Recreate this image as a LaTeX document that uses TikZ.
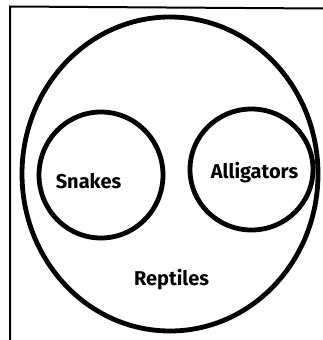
\documentclass[tikz,border=0pt]{standalone}
\usepackage{fontspec}
\setmainfont{Fira Sans}
\usetikzlibrary{shapes.geometric}
\begin{document}
\begin{tikzpicture}[x=1pt,y=-1pt,
  ring/.style={draw=black,line width=4.8pt,ellipse,inner sep=0pt},
  label/.style={font=\bfseries\fontsize{20}{22}\selectfont,anchor=base,inner sep=0pt},
  frame/.style={draw=black,line width=2pt}]
\useasboundingbox (0,0) rectangle (323,340);
\coordinate (tl) at (10,6.5);
\coordinate (tr) at (323,8.5);
\coordinate (bl) at (10,340);
\draw[frame] (bl) -- (tl) -- (tr);
\node[ring,minimum width=296pt,minimum height=314pt] (reptiles) at (170,174) {};
\node[ring,minimum width=124pt,minimum height=126pt] (snakes) at (101,175) {};
\node[ring,minimum width=123pt,minimum height=121pt] (alligators) at (251.5,169.5) {};
\node[label] (tsnakes) at (88.5,188) {Snakes};
\node[label] (talligators) at (254.5,178) {Alligators};
\node[label] (treptiles) at (171.5,285) {Reptiles};
\end{tikzpicture}
\end{document}
